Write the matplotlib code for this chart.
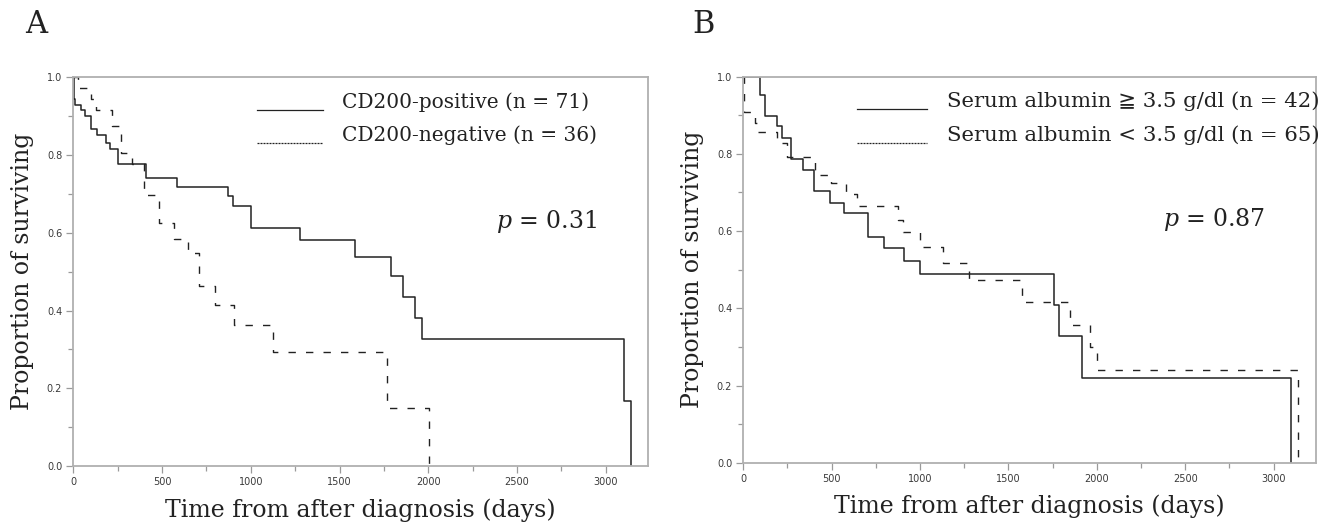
import matplotlib
matplotlib.use("Agg")
import matplotlib.pyplot as plt
from matplotlib.lines import Line2D
from matplotlib.legend_handler import HandlerLine2D
from matplotlib.ticker import MultipleLocator, FormatStrFormatter

plt.rcParams['mathtext.fontset'] = 'dejavuserif'

# Panel A: CD200 (Kaplan-Meier steps)
a_pos_days = [0, 2, 6, 10, 41, 67, 101, 133, 185, 204, 251, 407, 582, 874, 901,
              1000, 1280, 1586, 1792, 1858, 1923, 1966, 3101, 3144]
a_pos_surv = [1.0, 0.957, 0.943, 0.929, 0.915, 0.900, 0.866, 0.851, 0.831, 0.815,
              0.778, 0.741, 0.718, 0.694, 0.668, 0.612, 0.582, 0.537, 0.489, 0.434,
              0.382, 0.326, 0.166, 0.0]
a_neg_days = [0, 25, 98, 129, 218, 270, 332, 400, 483, 567, 646, 708, 796, 905,
              1124, 1766, 2002]
a_neg_surv = [1.0, 0.972, 0.944, 0.917, 0.875, 0.806, 0.778, 0.696, 0.625, 0.585,
              0.547, 0.462, 0.415, 0.363, 0.292, 0.148, 0.0]

# Panel B: serum albumin
b_hi_days = [0, 94, 120, 189, 217, 270, 336, 402, 491, 572, 708, 798, 909, 1000,
             1758, 1787, 1915, 3098]
b_hi_surv = [1.0, 0.953, 0.897, 0.871, 0.842, 0.788, 0.759, 0.703, 0.674, 0.647,
             0.585, 0.555, 0.523, 0.488, 0.408, 0.327, 0.220, 0.0]
b_lo_days = [0, 2, 5, 68, 80, 193, 249, 404, 495, 581, 642, 877, 902, 1000, 1128,
             1279, 1575, 1849, 1962, 2000, 3138]
b_lo_surv = [1.0, 0.955, 0.909, 0.88, 0.857, 0.828, 0.793, 0.746, 0.725, 0.695,
             0.666, 0.63, 0.598, 0.560, 0.517, 0.474, 0.416, 0.357, 0.299, 0.240, 0.0]

labels_a = ["CD200-positive (n = 71)", "CD200-negative (n = 36)"]
labels_b = ["Serum albumin \u2267 3.5 g/dl (n = 42)", "Serum albumin < 3.5 g/dl (n = 65)"]
p_a = "$p$ = 0.31"
p_b = "$p$ = 0.87"

serif = ['DejaVu Serif', 'DejaVu Sans']
ink = '#222222'
W, H = 1326, 529


class LowLine(HandlerLine2D):
    # legend line sits near the text baseline, as in the original
    def create_artists(self, legend, orig_handle, xdescent, ydescent, width,
                       height, fontsize, trans):
        return super().create_artists(legend, orig_handle, xdescent, ydescent + 14,
                                      width, height, fontsize, trans)


fig = plt.figure(figsize=(13.26, 5.29), dpi=100)
axA = fig.add_axes([73.3 / W, 1 - 466 / H, (648.3 - 73.3) / W, (466 - 77.3) / H])
axB = fig.add_axes([743.3 / W, 1 - 462.7 / H, (1316 - 743.3) / W, (462.7 - 76.7) / H])


def km_panel(ax, d1, s1, d2, s2, labels, ptxt, leg_anchor, leg_size):
    ax.step(d1, s1, where='post', color=ink, lw=1.1)
    ax.step(d2, s2, where='post', color=ink, lw=1.0, dashes=(5.3, 7.3))
    ax.set_xlim(0, 3240)
    ax.set_ylim(0, 1.0)
    ax.xaxis.set_major_locator(MultipleLocator(500))
    ax.xaxis.set_minor_locator(MultipleLocator(250))
    ax.yaxis.set_major_locator(MultipleLocator(0.2))
    ax.yaxis.set_minor_locator(MultipleLocator(0.1))
    ax.yaxis.set_major_formatter(FormatStrFormatter('%.1f'))
    ax.tick_params(which='both', direction='out', color='#9a9a9a', width=0.9,
                   labelsize=7, labelcolor='#3a3a3a', pad=3)
    ax.tick_params(which='major', length=5)
    ax.tick_params(which='minor', length=3.5)
    for sp in ax.spines.values():
        sp.set_color('#b0b0b0')
        sp.set_linewidth(1.3)
    ax.set_xlabel('Time from after diagnosis (days)', fontsize=17, family=serif,
                  color=ink, labelpad=8)
    ax.set_ylabel('Proportion of surviving', fontsize=17, family=serif,
                  color=ink, labelpad=9)
    ax.text(2950, 0.63, ptxt, fontsize=17, family=serif, color=ink,
            ha='right', va='center')
    handles = [Line2D([], [], color=ink, lw=0.9),
               Line2D([], [], color=ink, lw=0.9, dashes=(1.6, 0.8))]
    ax.legend(handles, labels, loc='upper right', bbox_to_anchor=leg_anchor,
              frameon=False, prop={'family': serif, 'size': leg_size},
              handlelength=3.3, handletextpad=0.95, labelspacing=0.66,
              borderpad=0, borderaxespad=0, labelcolor=ink,
              handler_map={Line2D: LowLine()})


km_panel(axA, a_pos_days, a_pos_surv, a_neg_days, a_neg_surv, labels_a, p_a,
         (0.911, 0.962), 14.5)
km_panel(axB, b_hi_days, b_hi_surv, b_lo_days, b_lo_surv, labels_b, p_b,
         (1.007, 0.962), 15.3)

fig.text(25 / W, 1 - 33 / H, 'A', fontsize=22, family=serif, color=ink, va='baseline')
fig.text(692 / W, 1 - 33 / H, 'B', fontsize=22, family=serif, color=ink, va='baseline')

fig.savefig('out.png', dpi=100, facecolor='white')
